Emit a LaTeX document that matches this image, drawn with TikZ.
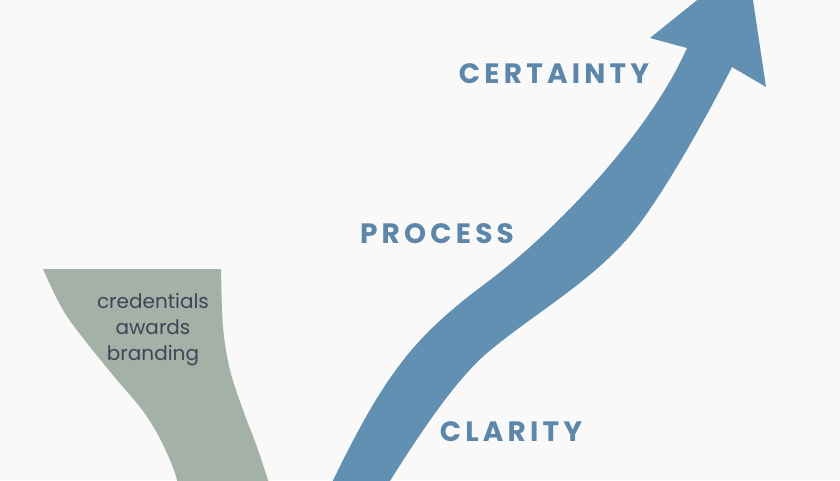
\documentclass[tikz,border=0pt]{standalone}
\usepackage{fontspec}
\setmainfont{Poppins}
\newfontfamily\labfont[LetterSpace=15]{Poppins}
\definecolor{bgc}{HTML}{F8F9F8}
\definecolor{arrowc}{HTML}{6290B3}
\definecolor{labc}{HTML}{5C87AA}
\definecolor{funnelc}{HTML}{A3B1A6}
\definecolor{ftext}{HTML}{3B4657}
\tikzset{
  stagelabel/.style={text=labc, font=\labfont\bfseries\fontsize{28}{32}\selectfont, inner sep=0pt, anchor=base},
  funneltext/.style={text=ftext, font=\fontsize{20}{26}\selectfont, align=center, inner sep=0pt}
}
\begin{document}
\begin{tikzpicture}[x=1pt,y=-1pt]
\fill[bgc] (0,0) rectangle (840,480);
\useasboundingbox (0,0) rectangle (840,480);
\clip (0,0) rectangle (840,480);
% funnel
\fill[funnelc] (43,269) -- (221,269)
  -- plot[smooth, tension=0.6] coordinates {(221,269) (223,327) (230,370) (243,410) (257,447) (268,480) (275,500)}
  -- (180,500)
  -- plot[smooth, tension=0.6] coordinates {(180,500) (177,480) (170,460) (157,433) (140,407) (117,380) (87,343) (63,310) (43,269)}
  -- cycle;
% arrow
\fill[arrowc]
  (326,495) .. controls (386,369) and (415,336) .. (490,280)
  .. controls (550,235) and (647,138) .. (687,48)
  -- (650,38) -- (747,-40) -- (766,87) -- (732,67)
  .. controls (707,116) and (667,188) .. (637,227)
  .. controls (597,279) and (537,311) .. (487,353)
  .. controls (452,383) and (413,444) .. (378,500)
  -- cycle;
% labels
\node[stagelabel] (certainty) at (554,83) {CERTAINTY};
\node[stagelabel] (process) at (437,243) {PROCESS};
\node[stagelabel] (clarity) at (511,441) {CLARITY};
\node[funneltext] (ftxt) at (153,330) {credentials\\awards\\branding};
\end{tikzpicture}
\end{document}
